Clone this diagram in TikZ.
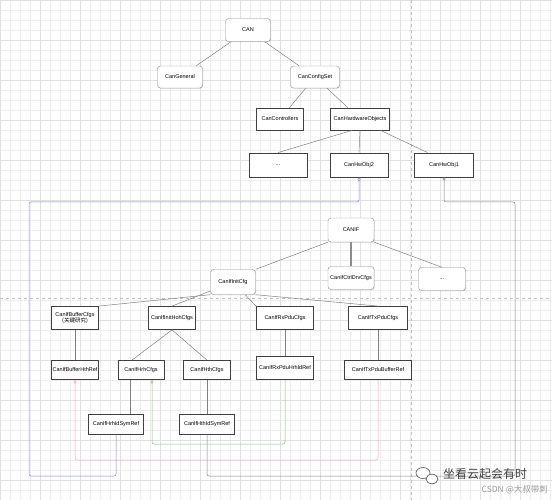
\documentclass[tikz,border=0pt]{standalone}
\usepackage{fontspec}
\setmainfont{Liberation Sans}
\newfontfamily\cjk{Noto Sans CJK SC}
\usetikzlibrary{arrows.meta,shadows}
\definecolor{linegray}{RGB}{128,128,128}
\definecolor{refblue}{RGB}{128,128,220}
\definecolor{refpink}{RGB}{255,150,200}
\definecolor{refgreen}{RGB}{120,200,120}
\tikzset{
  rbox/.style={draw=black!45, rounded corners=3pt, fill=white, inner sep=1pt,
    font=\fontsize{5.5}{6}\selectfont, align=center,
    drop shadow={shadow xshift=0.6pt, shadow yshift=-0.6pt, opacity=0.35}},
  sbox/.style={draw=black!75, line width=0.8pt, fill=white, inner sep=0.5pt,
    font=\fontsize{5.5}{6}\selectfont, align=center},
  tree/.style={draw=linegray, line width=0.5pt},
  ref/.style={line width=0.5pt, rounded corners=2pt},
}
\begin{document}
\begin{tikzpicture}[x=1pt,y=-1pt]
      \useasboundingbox (0,0) rectangle (552,500);
      % grid background
      \fill[white] (0,0) rectangle (552,500);
      \foreach \g in {0,10,...,550} \draw[black!7, line width=0.4pt] (\g,0) -- (\g,500);
      \foreach \g in {0,10,...,500} \draw[black!7, line width=0.4pt] (0,\g) -- (552,\g);
      \foreach \g in {0,40,...,550} \draw[black!12, line width=0.5pt] (\g,0) -- (\g,500);
      \foreach \g in {0,40,...,500} \draw[black!12, line width=0.5pt] (0,\g) -- (552,\g);
      % page breaks
      \draw[black!25, dashed, line width=0.5pt] (411,0) -- (411,500);
      \draw[black!25, dashed, line width=0.5pt] (0,298) -- (552,298);
      % CAN tree
      \node[rbox, minimum width=45, minimum height=23] (can) at (248,30) {CAN};
      \node[rbox, minimum width=45, minimum height=22] (general) at (180,77) {CanGeneral};
      \node[rbox, minimum width=49, minimum height=22] (cfgset) at (315,77) {CanConfigSet};
      \node[sbox, minimum width=47, minimum height=22] (ctrls) at (280,119) {CanControllers};
      \node[sbox, minimum width=59, minimum height=22] (hwobjs) at (360,119) {CanHardwareObjects};
      \node[sbox, minimum width=58, minimum height=24] (hwdots) at (278,165) {...};
      \node[sbox, minimum width=58, minimum height=24] (hwobj2) at (359,165) {CanHwObj2};
      \node[sbox, minimum width=59, minimum height=24] (hwobj1) at (444,165) {CanHwObj1};
      % CANIF tree
      \node[rbox, minimum width=46, minimum height=24] (canif) at (351,230) {CANIF};
      \node[rbox, minimum width=45, minimum height=25] (initcfg) at (233,282) {CanIfInitCfg};
      \node[rbox, minimum width=46, minimum height=23] (ctrldrv) at (351,278) {CanIfCtrlDrvCfgs};
      \node[rbox, minimum width=47, minimum height=23] (ifdots) at (442,279) {...};
      \node[sbox, minimum width=47, minimum height=23] (bufcfg) at (75,318) {CanIfBufferCfgs\\{\cjk (关键研究)}};
      \node[sbox, minimum width=47, minimum height=23] (hohcfg) at (172,318) {CanIfInitHohCfgs};
      \node[sbox, minimum width=57, minimum height=23] (rxcfg) at (285,318) {CanIfRxPduCfgs};
      \node[sbox, minimum width=59, minimum height=23] (txcfg) at (378,318) {CanIfTxPduCfgs};
      \node[sbox, minimum width=47, minimum height=19] (bufref) at (75,370) {CanIfBufferHthRef};
      \node[sbox, minimum width=46, minimum height=19] (hrhcfg) at (141,370) {CanIfHrhCfgs};
      \node[sbox, minimum width=47, minimum height=19] (hthcfg) at (207,370) {CanIfHthCfgs};
      \node[sbox, minimum width=57, minimum height=23] (rxref) at (285,368) {CanIfRxPduHrhIdRef};
      \node[sbox, minimum width=67, minimum height=19] (txref) at (378,370) {CanIfTxPduBufferRef};
      \node[sbox, minimum width=55, minimum height=20] (hrhsym) at (116,424) {CanIfHrhIdSymRef};
      \node[sbox, minimum width=55, minimum height=20] (hthsym) at (207,424) {CanIfHthIdSymRef};
      % tree lines
      \draw[tree] (can) -- (general);
      \draw[tree] (can) -- (cfgset);
      \draw[tree] (cfgset) -- (ctrls);
      \draw[tree] (cfgset) -- (hwobjs);
      \draw[tree] (hwobjs.235) -- (hwdots.north);
      \draw[tree] (hwobjs.south) -- (hwobj2.north);
      \draw[tree] (hwobjs.331) -- (hwobj1.143);
      \draw[tree] (canif.south west) -- (initcfg.north east);
      \draw[tree, line width=1.2pt, black!45] (canif) -- (ctrldrv);
      \draw[tree] (canif.south east) -- (ifdots.north);
      \draw[tree] (initcfg.south west) -- (bufcfg.north east);
      \draw[tree] (initcfg) -- (hohcfg.north);
      \draw[tree] (initcfg) -- (rxcfg.north west);
      \draw[tree] (initcfg.south east) -- (txcfg.north);
      \draw[tree] (hohcfg.south) -- ([xshift=-9pt]hrhcfg.north);
      \draw[tree] (hohcfg.south) -- (hthcfg.north);
      \draw[tree] (bufcfg) -- (bufref);
      \draw[tree] (rxcfg) -- (rxref);
      \draw[tree] (txcfg) -- (txref);
      \draw[tree] ([xshift=-11pt]hrhcfg.south) -- ([xshift=-11pt]hrhcfg.south |- hrhsym.north);
      \draw[tree] (hthcfg) -- (hthsym);
      % reference links
      \coordinate (bluetop) at (29,202);
      \coordinate (bluebot) at (29,476);
      \coordinate (graytop) at (515,202);
      \coordinate (graybot) at (515,476);
      \coordinate (pinkbot) at (0,460);
      \coordinate (greenbot) at (0,444);
      \draw[ref, refblue, {Diamond[open,length=4pt,width=3pt]}-] (hwobj2.south) |- (bluetop) -- (bluebot) -| (hrhsym.south);
      \draw[ref, linegray, {Circle[open,length=3pt]}-] (hwobj1.south) |- (graytop) -- (graybot) -| (hthsym.south);
      \draw[ref, refpink, {Diamond[open,length=4pt,width=3pt]}-] (bufref.south) |- (pinkbot -| txref.south) -- (txref.south);
      \draw[ref, refgreen, {Diamond[open,length=4pt,width=3pt]}-] ([xshift=11pt]hrhcfg.south) |- (greenbot -| rxref.south) -- (rxref.south);
      % watermark
      \draw[black!60, line width=0.7pt, fill=white] (423,473) ellipse (7 and 5.5);
      \draw[black!60, line width=0.7pt, fill=white] (432,479) ellipse (6 and 4.8);
      \node[font=\cjk\fontsize{12}{13}\selectfont, text=black!75, anchor=west, inner sep=0] (wmark) at (443,474) {坐看云起会有时};
      \node[font=\cjk\fontsize{8.5}{9}\selectfont, text=black!40, anchor=east, inner sep=0] (wsrc) at (548,490) {CSDN @大叔带刺};
\end{tikzpicture}
\end{document}
